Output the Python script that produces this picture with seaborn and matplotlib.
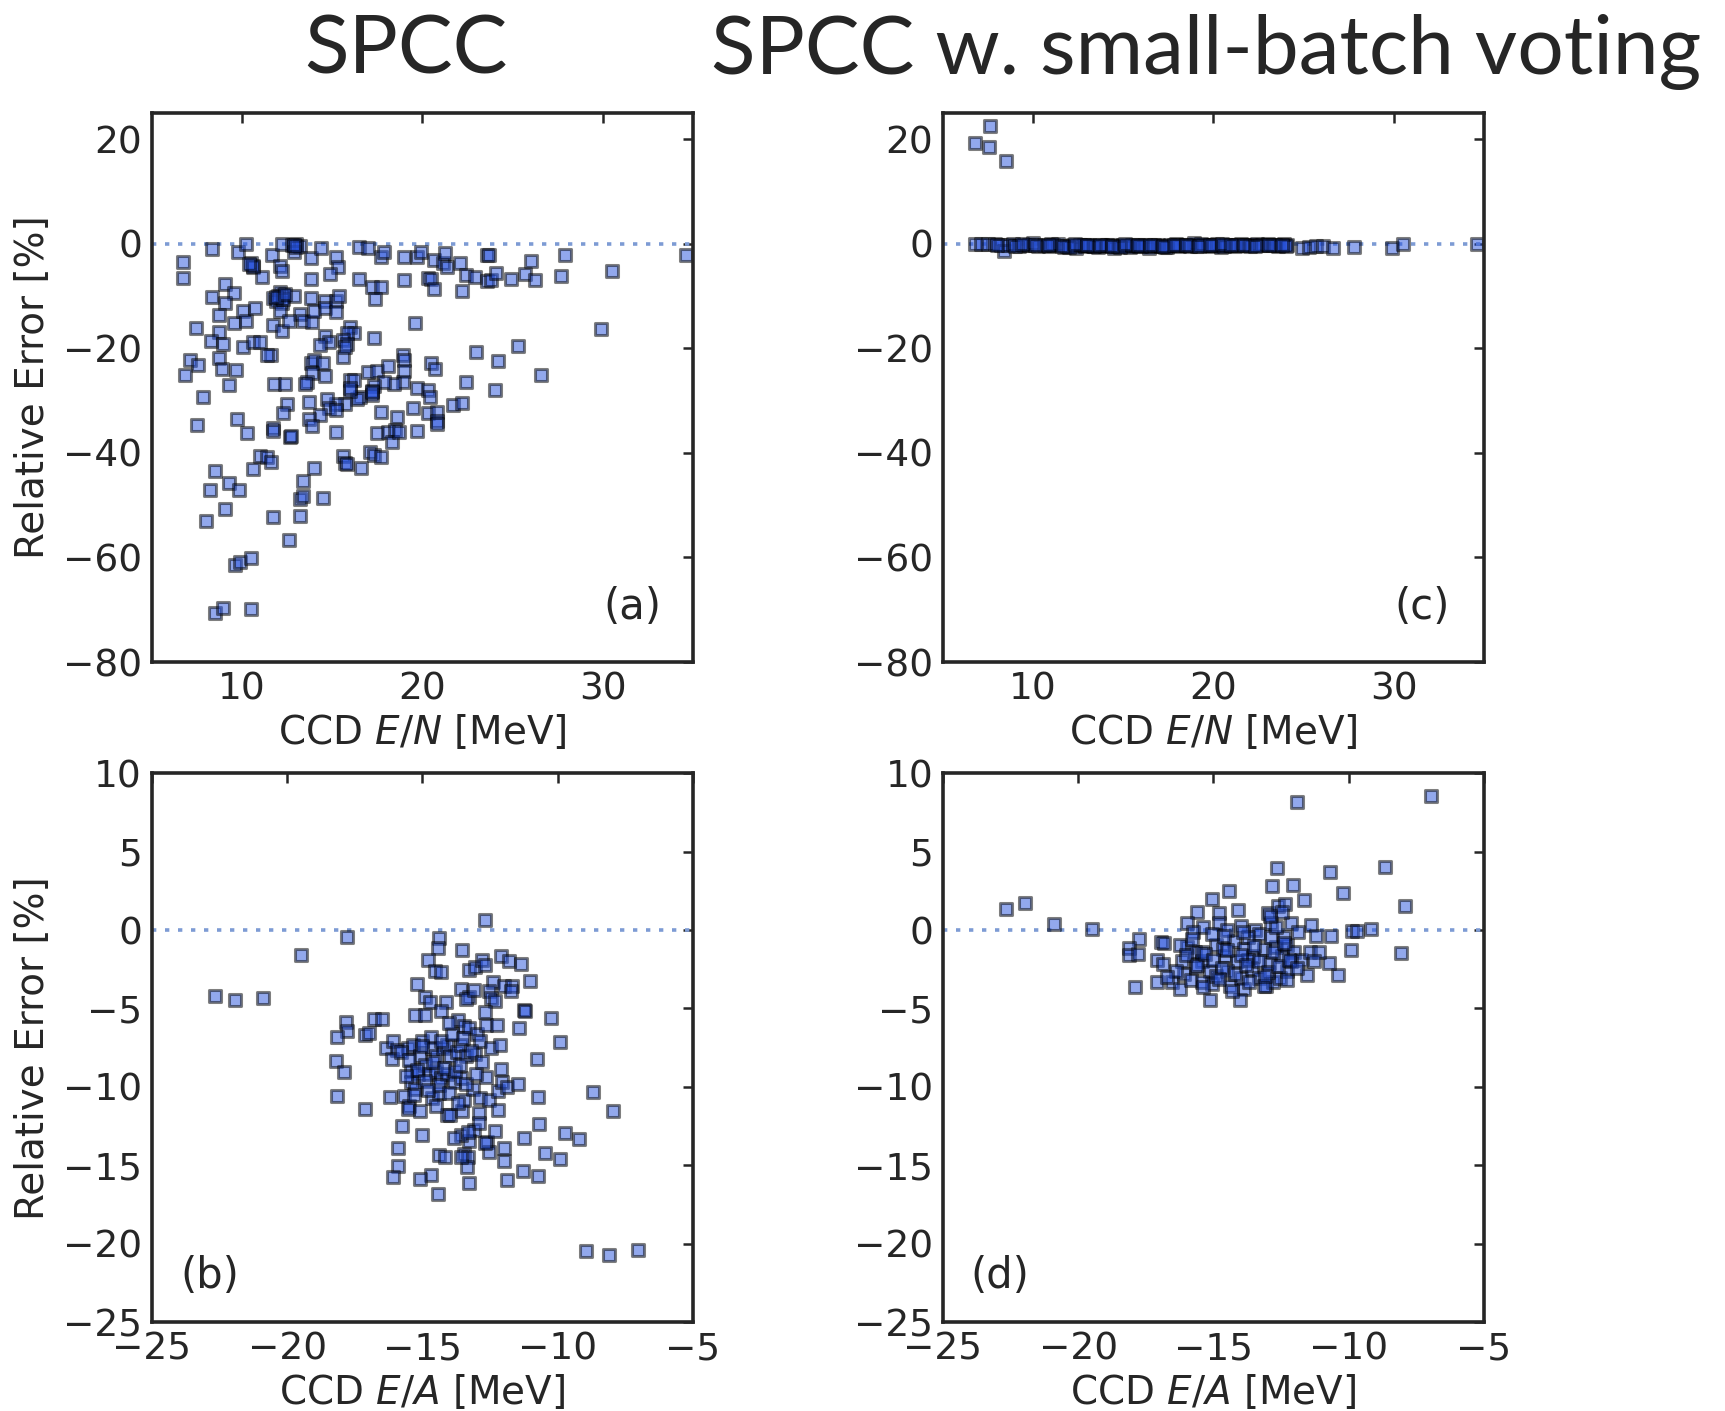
import matplotlib
matplotlib.use("Agg")
import matplotlib.pyplot as plt
import seaborn as sns
import pandas as pd

# ---- (a) SPCC: relative error vs CCD E/N ----
en_a = [6.71, 6.71, 8.35, 9.76, 10.24, 10.5, 10.6, 11.13, 11.69, 12.1,
        12.2, 12.2, 12.8, 13.0, 13.2, 12.9, 13.8, 13.8, 14.4, 15.2,
        15.3, 14.9, 16.5, 17.0, 16.5, 17.7, 17.9, 17.2, 17.7, 17.4,
        19.0, 19.7, 19.9, 19.0, 19.6, 20.3, 20.5, 20.65, 20.65, 21.15,
        21.25, 21.35, 22.1, 22.2, 22.4, 22.9, 23.6, 23.7, 23.6, 23.8,
        24.1, 24.9, 25.7, 26.0, 26.25, 27.7, 27.9, 30.5, 29.9, 34.6,
        8.35, 9.05, 9.54, 9.05, 8.7, 7.46, 8.75, 8.3, 8.95, 9.54,
        10.04, 10.24, 10.73, 10.04, 10.63, 11.0, 11.73, 12.2, 11.6, 11.4,
        11.73, 12.1, 12.3, 12.2, 11.9, 12.1, 12.9, 13.2, 13.4, 13.9,
        12.6, 13.8, 14.0, 14.6, 14.6, 15.2, 15.4, 15.2, 16.0, 16.2,
        15.8, 15.6, 15.8, 14.6, 14.8, 14.3, 15.6, 15.7, 17.3, 7.12,
        7.56, 6.83, 8.75, 8.87, 9.66, 9.27, 7.82, 13.8, 14.0, 14.5,
        13.9, 14.6, 13.6, 13.5, 11.8, 12.4, 16.0, 16.2, 17.0, 17.5,
        18.1, 18.9, 19.0, 19.0, 18.9, 18.4, 17.9, 17.3, 17.2, 17.2,
        16.55, 16.4, 16.0, 15.7, 15.2, 14.7, 14.8, 15.2, 14.3, 13.7,
        12.5, 12.3, 13.7, 13.9, 11.7, 11.7, 12.65, 12.7, 15.2, 17.7,
        18.6, 19.5, 19.7, 20.3, 20.4, 20.5, 20.7, 20.3, 20.8, 20.8,
        20.8, 21.7, 22.2, 22.4, 23.0, 24.2, 25.3, 24.0, 26.6, 17.5,
        18.1, 18.5, 18.3, 18.7, 19.7, 9.75, 10.3, 7.52, 8.5, 8.2,
        9.27, 9.84, 9.05, 8.0, 10.63, 11.0, 11.4, 11.6, 11.7, 12.6,
        13.2, 13.4, 13.4, 13.2, 13.97, 14.5, 15.6, 15.7, 15.8, 16.6,
        17.1, 17.3, 17.7, 9.6, 9.9, 10.5, 8.5, 8.95, 10.5,
        12.0, 12.3, 11.9, 12.4, 10.6, 10.4, 13.0, 12.9, 16.0, 17.2]
err_a = [-3.4, -6.6, -1.0, -1.5, -0.1, -3.6, -4.5, -6.3, -2.2, -4.2,
         -5.1, 0.0, -0.3, 0.0, -0.5, -1.5, -2.8, -6.8, -0.8, -2.6,
         -4.4, -5.8, -0.6, -0.7, -6.7, -2.6, -1.5, -8.2, -8.2, -10.5,
         -2.6, -2.6, -1.5, -7.0, -15.2, -6.6, -6.8, -8.7, -3.1, -3.6,
         -1.7, -4.4, -3.6, -9.1, -5.9, -6.3, -2.2, -2.1, -7.2, -7.0,
         -5.6, -6.7, -5.8, -3.3, -7.0, -6.2, -2.2, -5.1, -16.3, -2.1,
         -10.1, -7.6, -9.4, -11.4, -13.6, -16.1, -16.8, -18.5, -19.1, -15.2,
         -12.9, -14.7, -12.2, -19.8, -18.7, -18.7, -15.6, -16.6, -21.2, -21.3,
         -10.3, -9.3, -9.8, -11.4, -11.0, -12.8, -10.0, -13.5, -14.7, -14.9,
         -14.7, -10.3, -12.9, -11.0, -12.2, -11.0, -10.0, -13.1, -15.9, -17.0,
         -17.1, -18.4, -19.1, -17.7, -18.7, -19.4, -21.7, -19.8, -18.0, -22.3,
         -23.2, -25.1, -21.9, -24.0, -24.1, -27.0, -29.3, -22.7, -22.2, -22.7,
         -24.7, -25.3, -26.5, -26.8, -26.8, -26.9, -26.1, -26.0, -24.6, -24.4,
         -23.4, -21.2, -22.2, -24.4, -26.5, -26.8, -26.5, -27.2, -28.2, -28.9,
         -29.3, -29.6, -28.2, -30.7, -30.7, -29.6, -31.4, -31.7, -32.8, -30.3,
         -30.7, -32.4, -33.5, -34.9, -35.2, -35.8, -37.0, -36.8, -35.9, -32.1,
         -33.1, -31.4, -27.6, -27.9, -29.3, -22.7, -23.9, -32.3, -32.1, -33.8,
         -34.4, -30.9, -30.5, -26.5, -20.7, -22.5, -19.6, -28.0, -25.1, -36.1,
         -35.9, -35.6, -37.9, -35.9, -35.8, -33.5, -36.1, -34.7, -43.5, -47.0,
         -45.8, -47.0, -50.7, -53.1, -43.1, -40.5, -40.8, -41.8, -52.2, -56.6,
         -48.9, -48.2, -45.4, -52.1, -42.9, -48.7, -40.5, -41.9, -42.1, -42.8,
         -39.8, -40.3, -40.7, -61.5, -60.8, -60.1, -70.7, -69.6, -69.8,
         -9.9, -10.6, -10.2, -9.6, -4.2, -3.8, -0.6, -0.2, -27.5, -28.4]

# ---- (c) SPCC with small-batch voting: relative error vs CCD E/N ----
en_c = [6.77, 7.62, 7.56, 8.49,
        6.8, 7.1, 7.5, 7.9, 8.2, 8.4, 8.6, 8.9, 9.2, 9.5,
        9.8, 10.0, 10.3, 10.6, 10.9, 11.1, 11.4, 11.7, 11.9, 12.2,
        12.4, 12.6, 12.9, 13.1, 13.3, 13.6, 13.8, 14.0, 14.3, 14.5,
        14.7, 15.0, 15.2, 15.4, 15.7, 15.9, 16.2, 16.4, 16.6, 16.9,
        17.1, 17.4, 17.6, 17.9, 18.1, 18.4, 18.6, 18.9, 19.1, 19.4,
        19.7, 19.9, 20.2, 20.4, 20.7, 20.9, 21.2, 21.5, 21.8, 22.1,
        22.4, 22.7, 23.0, 23.3, 23.6, 23.9, 24.1, 24.9, 25.3, 25.7,
        26.1, 26.6, 27.8, 29.9, 30.5, 34.6,
        8.0, 9.0, 10.1, 11.0, 12.0, 12.8, 13.4, 14.1, 14.8, 15.5,
        16.0, 16.7, 17.3, 18.0, 18.7, 19.3, 20.0, 20.6, 21.3, 22.0,
        22.6, 23.4, 24.0, 9.4, 10.8, 11.6, 12.3, 13.0, 13.7, 14.4,
        15.1, 15.8, 16.5, 17.2, 17.8, 18.5, 19.2, 19.8, 20.5, 21.0,
        21.7, 22.3, 23.1, 23.8]
err_c = [19.3, 22.5, 18.6, 15.8,
         0.0, -0.1, -0.1, 0.0, -0.2, -1.4, -0.3, -0.1, -0.4, -0.2,
         -0.3, 0.1, -0.4, -0.2, -0.5, -0.3, -0.1, -0.6, -0.4, -0.2,
         -0.7, -0.3, -0.5, -0.2, -0.4, -0.6, -0.3, -0.5, -0.2, -0.7,
         -0.4, -0.3, -0.5, -0.6, -0.2, -0.4, -0.3, -0.7, -0.5, -0.2,
         -0.4, -0.6, -0.3, -0.1, -0.5, -0.3, -0.2, 0.1, -0.4, -0.2,
         -0.3, -0.5, -0.1, -0.6, -0.3, -0.2, -0.4, -0.1, -0.3, -0.2,
         0.0, -0.3, -0.1, -0.2, -0.4, -0.1, -0.3, -0.7, -0.6, -0.4,
         -0.5, -0.7, -0.6, -0.7, 0.0, 0.0,
         -0.2, -0.5, -0.3, -0.1, -0.6, -0.2, -0.5, -0.3, -0.6, -0.2,
         -0.5, -0.3, -0.6, -0.2, -0.4, -0.1, -0.3, -0.5, -0.2, -0.4,
         -0.3, -0.2, -0.5, 0.0, -0.2, -0.4, -0.1, -0.3, -0.2, -0.4,
         -0.1, -0.3, -0.2, -0.5, -0.2, -0.3, -0.4, -0.2, -0.1, -0.3,
         -0.2, -0.4, -0.3, -0.2]

# ---- (b) SPCC: relative error vs CCD E/A ----
ea_b = [-12.69, -17.77, -19.48, -22.65, -21.94, -20.88, -14.39, -14.43, -13.55, -14.78,
        -14.52, -14.3, -13.26, -13.06, -12.79, -12.69, -12.1, -11.8, -11.34, -11.02,
        -15.18, -12.4, -12.0, -11.67, -11.74, -12.55, -12.46, -13.58, -13.26, -14.9,
        -14.7, -14.13, -14.3, -11.24, -11.19, -15.28, -14.89, -13.67, -13.45, -13.29,
        -12.99, -12.66, -12.24, -11.41, -10.24, -9.93, -17.84, -17.77, -18.17, -17.12,
        -16.99, -16.79, -16.49, -18.19, -17.9, -18.14, -17.12, -16.33, -16.07, -15.94,
        -16.13, -15.54, -15.35, -15.09, -15.02, -14.69, -14.63, -14.5, -14.23, -14.1,
        -13.97, -13.71, -13.58, -13.38, -13.06, -12.86, -12.46, -12.14, -12.11, -10.76,
        -15.41, -15.15, -14.89, -14.76, -14.5, -14.3, -14.1, -13.84, -13.58, -15.41,
        -15.28, -15.67, -16.2, -15.48, -15.54, -15.09, -14.63, -14.37, -14.1, -13.97,
        -13.55, -13.45, -13.12, -12.86, -12.64, -12.54, -12.2, -12.07, -11.87, -11.48,
        -12.2, -12.9, -10.72, -10.7, -8.7, -7.97, -9.71, -9.21, -11.25, -10.45,
        -9.91, -11.28, -10.72, -11.87, -12.0, -12.0, -12.6, -12.54, -13.08, -13.26,
        -13.58, -13.84, -13.45, -13.32, -13.34, -13.58, -13.26, -14.39, -14.18, -14.69,
        -15.09, -14.43, -15.91, -15.91, -16.09, -15.77, -15.02, -8.94, -8.1, -7.03,
        -15.8, -15.5, -15.2, -14.9, -14.6, -14.4, -14.2, -14.0, -13.8, -13.6,
        -13.4, -13.2, -15.0, -14.8, -15.6, -14.3, -13.9, -13.5, -13.0, -12.8,
        -15.3, -14.5, -13.7, -12.9, -13.3, -12.7, -12.3, -14.0, -13.4, -12.3,
        -12.7, -13.1]
err_b = [0.64, -0.47, -1.6, -4.2, -4.43, -4.36, -0.52, -1.13, -1.3, -1.9,
         -2.6, -2.7, -2.55, -2.36, -1.9, -2.24, -1.65, -2.0, -2.17, -3.23,
         -3.42, -3.3, -3.54, -3.54, -3.9, -3.9, -4.36, -3.77, -4.3, -4.25,
         -4.6, -4.6, -5.14, -5.07, -5.19, -5.42, -5.42, -5.71, -6.13, -6.25,
         -6.6, -6.08, -6.06, -6.25, -5.61, -7.12, -5.85, -6.42, -6.84, -6.72,
         -6.56, -5.66, -5.66, -8.37, -9.08, -10.57, -11.44, -7.55, -7.08, -7.67,
         -8.25, -7.55, -7.31, -8.02, -7.08, -6.84, -7.55, -8.02, -7.55, -7.31,
         -8.02, -7.78, -7.31, -8.02, -7.9, -7.08, -7.55, -7.36, -8.84, -8.21,
         -8.96, -9.2, -8.6, -9.2, -8.96, -9.43, -9.2, -9.67, -9.43, -9.67,
         -10.14, -10.61, -10.66, -11.2, -11.44, -11.56, -10.73, -10.38, -11.79, -11.79,
         -11.56, -10.85, -10.14, -10.73, -9.39, -10.85, -10.26, -9.67, -10.02, -9.79,
         -11.5, -11.67, -10.66, -12.38, -10.31, -11.56, -12.92, -13.33, -13.25, -14.2,
         -14.58, -15.38, -15.68, -15.92, -14.74, -13.87, -13.49, -14.15, -12.78, -13.44,
         -13.09, -13.25, -14.27, -14.5, -15.09, -14.5, -16.16, -14.34, -14.5, -15.61,
         -15.87, -16.82, -13.87, -15.02, -15.75, -12.5, -13.09, -20.47, -20.7, -20.4,
         -7.8, -8.3, -8.9, -9.6, -8.4, -9.9, -8.8, -10.4, -9.0, -8.6,
         -9.8, -7.7, -7.4, -10.2, -9.3, -7.1, -6.6, -6.9, -9.2, -8.4,
         -10.5, -11.2, -11.0, -12.3, -12.9, -13.6, -12.8, -5.9, -4.4, -4.5,
         -5.2, -3.8]

# ---- (d) SPCC with small-batch voting: relative error vs CCD E/A ----
ea_d = [-22.67, -21.95, -20.89, -19.49, -11.91, -6.97, -8.66, -12.64, -10.7, -12.83,
        -12.05, -14.41, -15.04, -11.64, -10.2, -7.93, -15.59, -14.8, -14.09, -13.0,
        -12.61, -12.34, -15.96, -15.37, -15.76, -14.78, -14.0, -13.46, -12.12, -11.38,
        -11.22, -10.67, -9.87, -9.71, -9.18, -9.91, -8.07, -10.41, -10.72, -11.55,
        -17.74, -18.13, -18.13, -17.8, -16.95, -16.82, -17.08, -16.88, -17.91, -17.08,
        -16.55, -16.22, -16.16, -15.96, -15.7, -15.43, -15.11, -14.91, -14.58, -14.25,
        -14.12, -13.86, -13.53, -13.33, -13.13, -12.93, -12.67, -12.47, -12.28, -12.01,
        -11.75, -11.42, -11.09, -11.29, -16.09, -15.83, -15.63, -15.43, -15.04, -14.91,
        -14.51, -14.38, -14.0, -13.86, -13.59, -13.33, -13.07, -12.8, -12.54, -12.28,
        -15.13, -14.01, -13.13, -16.22, -15.04, -14.51, -13.72, -12.87, -12.41, -11.88,
        -14.64, -15.43, -13.72, -12.14, -12.87, -12.47,
        -16.0, -15.6, -15.3, -15.0, -14.7, -14.5, -14.2, -14.0, -13.8, -13.5,
        -13.3, -13.0, -12.8, -12.6, -12.4, -12.2, -15.4, -14.8, -14.3, -13.7,
        -13.1, -12.7, -12.9, -15.8, -14.6, -13.9, -12.3, -11.9, -16.4, -16.7]
err_d = [1.37, 1.72, 0.4, 0.05, 8.14, 8.54, 4.0, 3.96, 3.7, 2.78,
         2.88, 2.52, 2.0, 1.93, 2.36, 1.53, 1.18, 1.06, 1.3, 1.06,
         1.53, 1.65, 0.47, 0.19, -0.12, 0.47, 0.28, 0.0, 0.47, 0.35,
         -0.35, -0.35, -0.05, -0.05, 0.05, -1.25, -1.46, -2.88, -2.08, -2.88,
         -0.59, -1.13, -1.6, -1.53, -0.75, -0.83, -1.89, -2.17, -3.66, -3.3,
         -3.3, -3.77, -2.0, -1.06, -1.42, -2.0, -2.59, -0.94, -1.65, -0.71,
         -2.0, -1.18, -1.65, -0.24, -1.18, -2.12, -1.06, -1.65, -0.94, -1.42,
         -1.89, -1.42, -1.42, -2.0, -2.83, -3.18, -2.36, -3.3, -3.42, -2.95,
         -2.59, -3.54, -3.07, -3.77, -2.48, -3.07, -3.54, -3.3, -3.07, -2.59,
         -4.43, -4.43, -3.54, -0.94, -0.24, 0.0, -0.47, -0.47, -0.47, -0.12,
         -1.18, -1.42, -1.89, -2.0, 0.47, 1.18,
         -1.6, -2.2, -1.5, -1.9, -2.4, -1.3, -2.8, -1.6, -2.2, -1.0,
         -2.0, -2.7, -1.4, -2.3, -0.8, -1.9, -3.6, -3.1, -3.9, -3.3,
         -2.9, 0.2, 0.9, -0.6, -0.4, -0.1, -3.2, -2.4, -2.6, -3.0]

en_label = "CCD $E/N$ [MeV]"
ea_label = "CCD $E/A$ [MeV]"
err_label = "Relative Error [%]"

sns.set_style("white")
plt.rcParams["font.family"] = ["DejaVu Sans"]
plt.rcParams["mathtext.fontset"] = "dejavusans"

INK = "#262626"
POINT = "#2752dc"
ZERO = "#7d9bd4"

fig = plt.figure(figsize=(17.25, 14.11), dpi=100)
W, H = 0.3137, 0.389
axes = {
    "a": fig.add_axes([0.088, 0.5308, W, H]),
    "b": fig.add_axes([0.088, 0.063, W, H]),
    "c": fig.add_axes([0.5466, 0.5308, W, H]),
    "d": fig.add_axes([0.5466, 0.063, W, H]),
}

panels = {
    "a": (en_a, err_a, (5, 35), (-80, 25), [10, 20, 30], range(-80, 21, 20), en_label, (0.888, 0.10)),
    "c": (en_c, err_c, (5, 35), (-80, 25), [10, 20, 30], range(-80, 21, 20), en_label, (0.886, 0.10)),
    "b": (ea_b, err_b, (-25, -5), (-25, 10), range(-25, -4, 5), range(-25, 11, 5), ea_label, (0.107, 0.084)),
    "d": (ea_d, err_d, (-25, -5), (-25, 10), range(-25, -4, 5), range(-25, 11, 5), ea_label, (0.105, 0.084)),
}

for key, (xv, yv, xlim, ylim, xt, yt, xlabel, tpos) in panels.items():
    ax = axes[key]
    df = pd.DataFrame({"x": xv, "y": yv})
    ax.axhline(0, color=ZERO, lw=2.6, linestyle=(0, (1.2, 2.4)), zorder=1)
    sns.scatterplot(data=df, x="x", y="y", ax=ax, marker="s", s=80,
                    color=POINT, alpha=0.5, edgecolor="black", linewidth=2.2,
                    zorder=2, legend=False)
    ax.set_xlim(*xlim)
    ax.set_ylim(*ylim)
    ax.set_xticks(list(xt))
    ax.set_yticks(list(yt))
    ax.set_xlabel(xlabel, fontsize=28, color=INK, labelpad=4)
    if key in ("a", "b"):
        ax.set_ylabel(err_label, fontsize=28, color=INK, labelpad=8)
    else:
        ax.set_ylabel("")
    ax.tick_params(direction="in", top=True, right=True, length=7, width=1.8,
                   labelsize=27, colors=INK, pad=7)
    for sp in ax.spines.values():
        sp.set_linewidth(2.6)
        sp.set_color(INK)
    ax.text(tpos[0], tpos[1], f"({key})", transform=ax.transAxes,
            ha="center", va="center", fontsize=30, color=INK)

fig.text(0.2356, 0.9476, "SPCC", ha="center", va="baseline",
         fontsize=59, color=INK, family=["Lato", "DejaVu Sans"])
fig.text(0.699, 0.9476, "SPCC w. small-batch voting", ha="center", va="baseline",
         fontsize=59, color=INK, family=["Lato", "DejaVu Sans"])

fig.savefig("out.png", dpi=100)
